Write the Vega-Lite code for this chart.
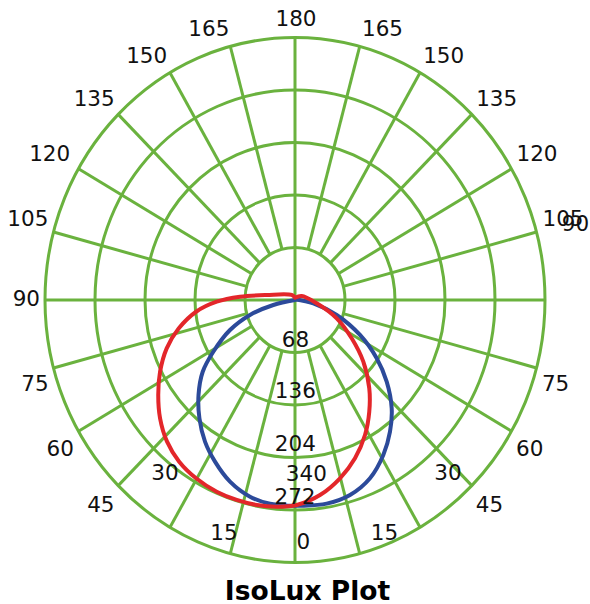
{
  "$schema": "https://vega.github.io/schema/vega-lite/v6.json",
  "width": 590,
  "height": 604,
  "autosize": "none",
  "padding": 0,
  "background": "white",
  "config": {"view": {"stroke": null}},
  "datasets": {
    "rings": [{"r": 68}, {"r": 136}, {"r": 204}, {"r": 272}, {"r": 340}],
    "spokes": [
      {"x": -340, "y": 0, "x2": 340, "y2": 0},
      {"x": 0, "y": -340, "x2": 0, "y2": 340},
      {"x": 17.6, "y": 65.68, "x2": 88.0, "y2": 328.41},
      {"x": 34.0, "y": 58.89, "x2": 170.0, "y2": 294.45},
      {"x": 48.08, "y": 48.08, "x2": 240.42, "y2": 240.42},
      {"x": 58.89, "y": 34.0, "x2": 294.45, "y2": 170.0},
      {"x": 65.68, "y": 17.6, "x2": 328.41, "y2": 88.0},
      {"x": -17.6, "y": 65.68, "x2": -88.0, "y2": 328.41},
      {"x": -34.0, "y": 58.89, "x2": -170.0, "y2": 294.45},
      {"x": -48.08, "y": 48.08, "x2": -240.42, "y2": 240.42},
      {"x": -58.89, "y": 34.0, "x2": -294.45, "y2": 170.0},
      {"x": -65.68, "y": 17.6, "x2": -328.41, "y2": 88.0},
      {"x": 17.6, "y": -65.68, "x2": 88.0, "y2": -328.41},
      {"x": 34.0, "y": -58.89, "x2": 170.0, "y2": -294.45},
      {"x": 48.08, "y": -48.08, "x2": 240.42, "y2": -240.42},
      {"x": 58.89, "y": -34.0, "x2": 294.45, "y2": -170.0},
      {"x": 65.68, "y": -17.6, "x2": 328.41, "y2": -88.0},
      {"x": -17.6, "y": -65.68, "x2": -88.0, "y2": -328.41},
      {"x": -34.0, "y": -58.89, "x2": -170.0, "y2": -294.45},
      {"x": -48.08, "y": -48.08, "x2": -240.42, "y2": -240.42},
      {"x": -58.89, "y": -34.0, "x2": -294.45, "y2": -170.0},
      {"x": -65.68, "y": -17.6, "x2": -328.41, "y2": -88.0}
    ],
    "curves": [
      {"series": "C0", "i": 0, "x": 0, "y": 0},
      {"series": "C0", "i": 1, "x": -29.5, "y": -6.5},
      {"series": "C0", "i": 2, "x": -61.2, "y": -19.4},
      {"series": "C0", "i": 3, "x": -88.4, "y": -38.9},
      {"series": "C0", "i": 4, "x": -111.1, "y": -67.0},
      {"series": "C0", "i": 5, "x": -125.5, "y": -92.9},
      {"series": "C0", "i": 6, "x": -131.2, "y": -123.0},
      {"series": "C0", "i": 7, "x": -130.0, "y": -153.2},
      {"series": "C0", "i": 8, "x": -122.4, "y": -183.5},
      {"series": "C0", "i": 9, "x": -108.8, "y": -209.4},
      {"series": "C0", "i": 10, "x": -88.4, "y": -235.3},
      {"series": "C0", "i": 11, "x": -61.2, "y": -254.8},
      {"series": "C0", "i": 12, "x": -34.0, "y": -264.0},
      {"series": "C0", "i": 13, "x": -6.8, "y": -266.5},
      {"series": "C0", "i": 14, "x": 6.8, "y": -266.5},
      {"series": "C0", "i": 15, "x": 43.1, "y": -263.8},
      {"series": "C0", "i": 16, "x": 74.8, "y": -252.6},
      {"series": "C0", "i": 17, "x": 102.0, "y": -230.9},
      {"series": "C0", "i": 18, "x": 120.1, "y": -200.8},
      {"series": "C0", "i": 19, "x": 129.2, "y": -170.6},
      {"series": "C0", "i": 20, "x": 131.5, "y": -140.3},
      {"series": "C0", "i": 21, "x": 124.7, "y": -105.8},
      {"series": "C0", "i": 22, "x": 111.1, "y": -75.5},
      {"series": "C0", "i": 23, "x": 88.4, "y": -45.3},
      {"series": "C0", "i": 24, "x": 56.7, "y": -19.4},
      {"series": "C0", "i": 25, "x": 24.9, "y": -4.3},
      {"series": "C0", "i": 26, "x": 0, "y": 1},
      {"series": "C1", "i": 0, "x": 0, "y": 3},
      {"series": "C1", "i": 1, "x": -4.5, "y": 6.5},
      {"series": "C1", "i": 2, "x": -38.5, "y": 6.5},
      {"series": "C1", "i": 3, "x": -74.8, "y": 4.3},
      {"series": "C1", "i": 4, "x": -106.5, "y": -2.2},
      {"series": "C1", "i": 5, "x": -134.5, "y": -15.2},
      {"series": "C1", "i": 6, "x": -158.0, "y": -36.7},
      {"series": "C1", "i": 7, "x": -174.5, "y": -62.6},
      {"series": "C1", "i": 8, "x": -183.5, "y": -92.9},
      {"series": "C1", "i": 9, "x": -186.0, "y": -123.0},
      {"series": "C1", "i": 10, "x": -183.5, "y": -153.2},
      {"series": "C1", "i": 11, "x": -174.0, "y": -183.5},
      {"series": "C1", "i": 12, "x": -157.5, "y": -209.4},
      {"series": "C1", "i": 13, "x": -134.5, "y": -230.9},
      {"series": "C1", "i": 14, "x": -106.5, "y": -248.3},
      {"series": "C1", "i": 15, "x": -79.3, "y": -259.0},
      {"series": "C1", "i": 16, "x": -52.1, "y": -265.5},
      {"series": "C1", "i": 17, "x": -24.9, "y": -267.7},
      {"series": "C1", "i": 18, "x": 2.3, "y": -265.5},
      {"series": "C1", "i": 19, "x": 34.0, "y": -252.6},
      {"series": "C1", "i": 20, "x": 61.2, "y": -230.9},
      {"series": "C1", "i": 21, "x": 81.6, "y": -205.0},
      {"series": "C1", "i": 22, "x": 95.2, "y": -174.9},
      {"series": "C1", "i": 23, "x": 101.0, "y": -144.7},
      {"series": "C1", "i": 24, "x": 101.0, "y": -114.4},
      {"series": "C1", "i": 25, "x": 92.9, "y": -79.9},
      {"series": "C1", "i": 26, "x": 77.1, "y": -49.6},
      {"series": "C1", "i": 27, "x": 56.7, "y": -23.7},
      {"series": "C1", "i": 28, "x": 29.5, "y": -4.3},
      {"series": "C1", "i": 29, "x": 9.1, "y": 5.2},
      {"series": "C1", "i": 30, "x": 0, "y": 3}
    ],
    "labels": [
      {"label": "180", "x": 1.4, "y": 364.3},
      {"label": "165", "x": -117.2, "y": 351.9},
      {"label": "150", "x": -201.7, "y": 316.9},
      {"label": "135", "x": -273.1, "y": 260.3},
      {"label": "120", "x": -333.6, "y": 189.4},
      {"label": "105", "x": -363.4, "y": 105.3},
      {"label": "90", "x": -365.4, "y": 1.3},
      {"label": "75", "x": -353.6, "y": -108.8},
      {"label": "60", "x": -319.2, "y": -193.0},
      {"label": "45", "x": -264.1, "y": -265.5},
      {"label": "30", "x": -176.8, "y": -223.4},
      {"label": "15", "x": -96.6, "y": -301.8},
      {"label": "0", "x": 11.3, "y": -312.5},
      {"label": "15", "x": 121.7, "y": -301.8},
      {"label": "30", "x": 208.1, "y": -223.4},
      {"label": "45", "x": 264.5, "y": -265.5},
      {"label": "60", "x": 319.2, "y": -193.0},
      {"label": "75", "x": 354.4, "y": -108.8},
      {"label": "105", "x": 364.5, "y": 105.6},
      {"label": "90", "x": 381.5, "y": 98.4},
      {"label": "120", "x": 329.1, "y": 189.4},
      {"label": "135", "x": 274.3, "y": 260.3},
      {"label": "150", "x": 202.2, "y": 316.9},
      {"label": "165", "x": 119.0, "y": 351.4},
      {"label": "68", "x": 0.7, "y": -51.4},
      {"label": "136", "x": 0.4, "y": -117.6},
      {"label": "204", "x": 0.4, "y": -186.3},
      {"label": "340", "x": 15.4, "y": -225.4},
      {"label": "272", "x": 0, "y": -254.8}
    ]
  },
  "layer": [
    {
      "data": {"name": "rings"},
      "mark": {
        "type": "point",
        "shape": "M1,0C1,0.5799,0.5523,1.05,0,1.05C-0.5523,1.05,-1,0.5799,-1,0C-1,-0.5799,-0.5523,-1.05,0,-1.05C0.5523,-1.05,1,-0.5799,1,0Z",
        "filled": false,
        "stroke": "#6ab23e",
        "strokeWidth": 3,
        "opacity": 1
      },
      "encoding": {
        "x": {"datum": 0, "type": "quantitative", "scale": {"domain": [-401.2, 401.2], "nice": false, "zero": false}, "axis": null},
        "y": {"datum": 0, "type": "quantitative", "scale": {"domain": [-393.75, 388.57], "nice": false, "zero": false}, "axis": null},
        "size": {"field": "r", "type": "quantitative", "scale": {"type": "pow", "exponent": 2, "domain": [0, 340], "range": [0, 250000]}, "legend": null}
      }
    },
    {
      "data": {"name": "spokes"},
      "mark": {"type": "rule", "stroke": "#6ab23e", "strokeWidth": 3},
      "encoding": {
        "x": {"field": "x", "type": "quantitative", "scale": {"domain": [-401.2, 401.2], "nice": false, "zero": false}, "axis": null},
        "y": {"field": "y", "type": "quantitative", "scale": {"domain": [-393.75, 388.57], "nice": false, "zero": false}, "axis": null},
        "x2": {"field": "x2"},
        "y2": {"field": "y2"}
      }
    },
    {
      "data": {"name": "curves"},
      "mark": {"type": "line", "strokeWidth": 4, "interpolate": "catmull-rom", "strokeCap": "round", "strokeJoin": "round"},
      "encoding": {
        "x": {"field": "x", "type": "quantitative", "scale": {"domain": [-401.2, 401.2], "nice": false, "zero": false}, "axis": null},
        "y": {"field": "y", "type": "quantitative", "scale": {"domain": [-393.75, 388.57], "nice": false, "zero": false}, "axis": null},
        "order": {"field": "i", "type": "quantitative"},
        "color": {"field": "series", "type": "nominal", "scale": {"domain": ["C0", "C1"], "range": ["#2c4a9a", "#e3262a"]}, "legend": null}
      }
    },
    {
      "data": {"name": "labels"},
      "mark": {"type": "text", "font": "DejaVu Sans", "fontSize": 21.5, "fill": "#111111", "align": "center", "baseline": "middle", "dy": 1.4},
      "encoding": {
        "x": {"field": "x", "type": "quantitative", "scale": {"domain": [-401.2, 401.2], "nice": false, "zero": false}, "axis": null},
        "y": {"field": "y", "type": "quantitative", "scale": {"domain": [-393.75, 388.57], "nice": false, "zero": false}, "axis": null},
        "text": {"field": "label"}
      }
    },
    {
      "data": {"values": [{"title": "IsoLux Plot"}]},
      "mark": {"type": "text", "font": "DejaVu Sans", "fontWeight": "bold", "fontSize": 26.5, "fill": "#000000", "align": "center", "baseline": "alphabetic"},
      "encoding": {
        "x": {"datum": 17.0, "type": "quantitative", "scale": {"domain": [-401.2, 401.2], "nice": false, "zero": false}, "axis": null},
        "y": {"datum": -388.5, "type": "quantitative", "scale": {"domain": [-393.75, 388.57], "nice": false, "zero": false}, "axis": null},
        "text": {"field": "title"}
      }
    }
  ]
}
